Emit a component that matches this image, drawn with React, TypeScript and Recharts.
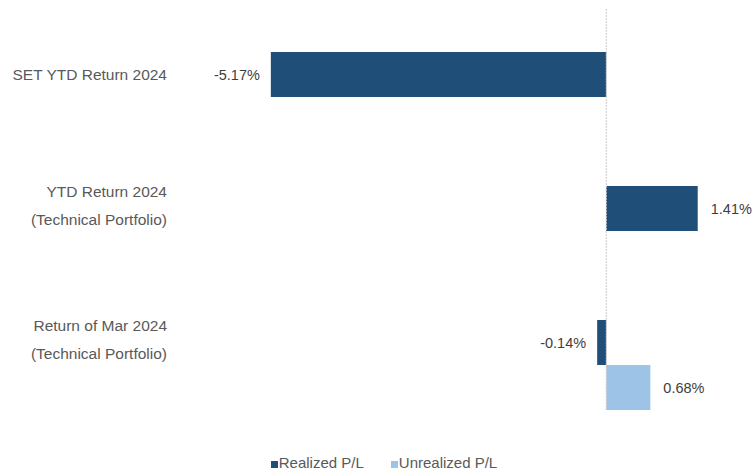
import React from "react";
import { Bar, BarChart, LabelList, Legend, ReferenceLine, XAxis, YAxis } from "recharts";

// category labels (one entry per line)
const categories = [
  ["SET YTD Return 2024"],
  ["YTD Return 2024", "(Technical Portfolio)"],
  ["Return of Mar 2024", "(Technical Portfolio)"],
];
const realized = [-5.17, 1.41, -0.14];
const unrealized = [null, null, 0.68];
const seriesNames = ["Realized P/L", "Unrealized P/L"];
const seriesColors = ["#1F4E79", "#9DC3E6"];

const data = categories.map((lines, i) => ({
  name: lines.join("|"),
  realized: realized[i],
  unrealized: unrealized[i],
}));

const FONT = '"Liberation Sans", Arial, sans-serif';

function CategoryTick(props: any) {
  const { y, payload } = props;
  const lines = String(payload.value).split("|");
  const mid = lines.length > 1 ? -25 : -22;
  return (
    <g>
      {lines.map((l: string, i: number) => (
        <text
          key={i}
          x={167}
          y={y + mid + (i - (lines.length - 1) / 2) * 28}
          dy="0.35em"
          textAnchor="end"
          fontSize={15.5}
          fontFamily={FONT}
          fill="#595959"
        >
          {l}
        </text>
      ))}
    </g>
  );
}

function ValueLabel(props: any) {
  const { x, y, width, height, value } = props;
  if (value === null || value === undefined) return null;
  const left = Math.min(x, x + width);
  const right = Math.max(x, x + width);
  const neg = value < 0;
  return (
    <text
      x={neg ? left - 11 : right + 13}
      y={y + height / 2}
      dy="0.35em"
      textAnchor={neg ? "end" : "start"}
      fontSize={14.5}
      fontFamily={FONT}
      fill="#404040"
    >
      {`${value.toFixed(2)}%`}
    </text>
  );
}

function LegendContent() {
  return (
    <div
      style={{
        height: 62,
        display: "flex",
        alignItems: "flex-end",
        justifyContent: "center",
        paddingLeft: 32,
        fontFamily: FONT,
        fontSize: 15,
        color: "#595959",
        boxSizing: "border-box",
      }}
    >
      {seriesNames.map((n, i) => (
        <div key={n} style={{ display: "flex", alignItems: "center", marginRight: i === 0 ? 27 : 0, lineHeight: "18px" }}>
          <span style={{ width: 7, height: 7, background: seriesColors[i], display: "inline-block", marginRight: 1, marginTop: 3 }} />
          <span>{n}</span>
        </div>
      ))}
    </div>
  );
}

export default function App() {
  return (
    <div style={{ position: "absolute", left: 0, top: 0, width: 755, height: 474, background: "#fff" }}>
      <BarChart
        width={755}
        height={474}
        data={data}
        layout="vertical"
        barGap={0}
        margin={{ top: 8, right: 19, left: 0, bottom: 2 }}
      >
        <XAxis type="number" domain={[-6, 2]} hide />
        <YAxis
          type="category"
          dataKey="name"
          width={217}
          axisLine={false}
          tickLine={false}
          padding={{ top: 22, bottom: -22 }}
          tick={<CategoryTick />}
        />
        <ReferenceLine x={0} stroke="#c8c8c8" strokeDasharray="2 1" />
        <Bar dataKey="realized" name={seriesNames[0]} fill={seriesColors[0]} barSize={45} isAnimationActive={false}>
          <LabelList dataKey="realized" content={<ValueLabel />} />
        </Bar>
        <Bar dataKey="unrealized" name={seriesNames[1]} fill={seriesColors[1]} barSize={45} isAnimationActive={false}>
          <LabelList dataKey="unrealized" content={<ValueLabel />} />
        </Bar>
        <Legend verticalAlign="bottom" height={62} content={<LegendContent />} />
      </BarChart>
    </div>
  );
}
